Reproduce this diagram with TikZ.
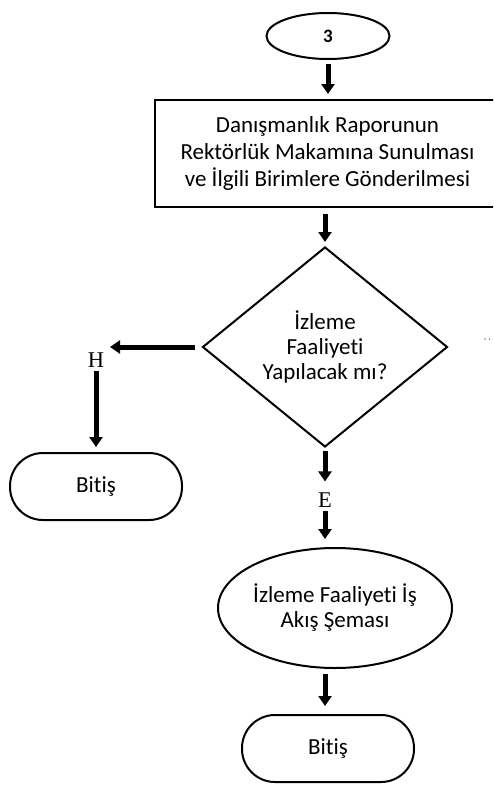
\documentclass[tikz,border=0pt]{standalone}
\usepackage{fontspec}
\setmainfont{Carlito}[Ligatures={NoCommon,NoContextual}]
\newfontfamily\serifletter{Liberation Serif}
\usetikzlibrary{arrows.meta,shapes.geometric}
\tikzset{
  shapeline/.style={draw=black, line width=2pt, inner sep=0pt},
  txt/.style={font=\fontsize{23}{27}\selectfont, align=center},
  arr/.style={line width=5pt, -{Triangle[width=13pt,length=10pt]}},
  stadium/.style={shapeline, rectangle, rounded corners=33pt, minimum width=172pt, minimum height=67pt, txt},
  letter/.style={inner sep=0pt, font=\serifletter\fontsize{22.5}{24}\selectfont}
}
\begin{document}
\begin{tikzpicture}[x=1pt,y=-1pt]
\useasboundingbox (0,0) rectangle (493,787);
\clip (0,0) rectangle (493,787);
\node[shapeline, ellipse, minimum width=123pt, minimum height=46pt, font=\bfseries\fontsize{19}{22}\selectfont] (c3) at (328,36) {3};
\node[shapeline, rectangle, minimum width=345pt, minimum height=107pt, txt] (rect) at (327.5,153.5)
  {Danışmanlık Raporunun\\Rektörlük Makamına Sunulması\\ve İlgili Birimlere Gönderilmesi};
\node[shapeline, diamond, aspect=1.225, minimum width=245pt, minimum height=200pt, font=\fontsize{23}{25}\selectfont, align=center] (dia) at (325,347)
  {İzleme\\Faaliyeti\\Yapılacak mı?};
\coordinate (hend) at (110,347);
\node[letter] (H) at (96,360) {H};
\node[stadium] (b1) at (96,486.5) {Bitiş};
\node[letter] (E) at (325,500) {E};
\node[shapeline, ellipse, minimum width=234pt, minimum height=120pt, font=\fontsize{23}{25}\selectfont, align=center] (e2) at (335,608)
  {İzleme Faaliyeti İş\\Akış Şeması};
\node[stadium] (b2) at (328,748.5) {Bitiş};
\fill[gray] (485,339) circle (0.8pt) (489.5,339) circle (0.8pt);

\draw[arr, shorten <=4pt, shorten >=5pt] (c3.south) -- (c3.south |- rect.north);
\draw[arr, shorten <=6pt, shorten >=4pt] (rect.south -| dia.north) -- (dia.north);
\draw[arr, shorten <=7pt] (dia.west) -- (hend);
\draw[arr, shorten <=3pt, shorten >=5pt] (H.south) -- (b1.north);
\draw[arr, shorten <=3pt, shorten >=11pt] (dia.south) -- (E.north);
\draw[arr, shorten <=3pt, shorten >=8pt] (E.south) -- (E.south |- e2.north);
\draw[arr, shorten <=5pt, shorten >=8pt] (e2.south -| E) -- (b2.north -| E);
\end{tikzpicture}
\end{document}
